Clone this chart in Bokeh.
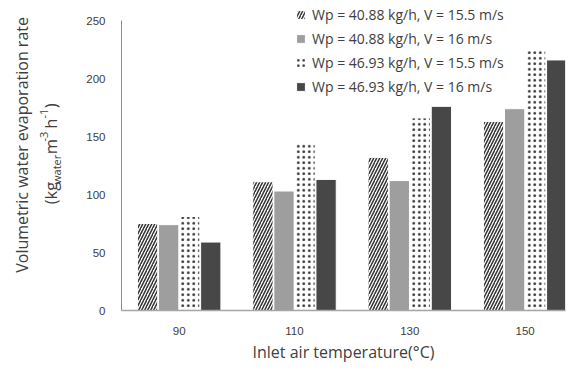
import numpy as np
from bokeh.plotting import figure
from bokeh.layouts import row
from bokeh.models import ColumnDataSource, FixedTicker, Label, Legend, LegendItem
from bokeh.embed import file_html
from bokeh.resources import INLINE

# ---- data ----
temperatures = ["90", "110", "130", "150"]
series_labels = [
    "Wp = 40.88 kg/h, V = 15.5 m/s",
    "Wp = 40.88 kg/h, V = 16 m/s",
    "Wp = 46.93 kg/h, V = 15.5 m/s",
    "Wp = 46.93 kg/h, V = 16 m/s",
]
wp4088_v155 = [75, 111, 132, 163]
wp4088_v16 = [74, 103, 112, 174]
wp4693_v155 = [81, 145, 166, 225]
wp4693_v16 = [59, 113, 176, 216]
y_ticks = [0, 50, 100, 150, 200, 250]

series_values = [wp4088_v155, wp4088_v16, wp4693_v155, wp4693_v16]

# ---- styles ----
styles = [
    dict(fill_color="white", hatch_pattern="right_diagonal_line", hatch_color="#333333",
         hatch_scale=6, hatch_weight=1.5),
    dict(fill_color="#9e9e9e"),
    dict(fill_color="white", hatch_pattern="dot", hatch_color="#333333",
         hatch_scale=5.5, hatch_weight=0.3),
    dict(fill_color="#474747"),
]
offsets = [-0.274, -0.091, 0.091, 0.274]
bar_w = 0.176

H = 365
W1 = 75
tc = "#404040"

# ---- left strip holding the two-line y-axis title ----
left = figure(width=W1, height=H, output_backend="svg", toolbar_location=None,
              x_range=(0, W1), y_range=(0, H), x_axis_location=None, y_axis_location=None,
              min_border=0)
left.outline_line_color = None
left.xgrid.grid_line_color = None
left.ygrid.grid_line_color = None
left.add_layout(Label(x=21, y=H - 170, text="Volumetric water evaporation rate",
                      angle=np.pi / 2, text_align="center", text_baseline="middle",
                      text_font="Open Sans", text_font_size="16px", text_color=tc))
segments = [
    ("(kg", 240, 50, "16.5px"),
    ("water", 216, 56, "11px"),
    ("m", 181, 50, "16.5px"),
    ("-3", 166, 43, "11px"),
    ("h", 151, 50, "16.5px"),
    ("-1", 139, 43, "11px"),
    (")", 127, 50, "16.5px"),
]
for txt, yy, xx, fs in segments:
    left.add_layout(Label(x=xx, y=H - yy, text=txt, angle=np.pi / 2,
                          text_align="left", text_baseline="middle",
                          text_font="Open Sans", text_font_size=fs, text_color=tc))

# ---- main chart ----
p = figure(width=572 - W1, height=H, output_backend="svg", toolbar_location=None,
           x_range=(-0.5, 3.35), y_range=(0, 250 + 20 / 1.16),
           min_border_left=121 - W1, min_border_right=7, min_border_top=0, min_border_bottom=55)
p.outline_line_color = None
p.xgrid.grid_line_color = None
p.ygrid.grid_line_color = None
p.background_fill_color = "white"
p.border_fill_color = "white"

xs = np.arange(len(temperatures))
items = []
for vals, st, off, lab in zip(series_values, styles, offsets, series_labels):
    src = ColumnDataSource(dict(x=xs + off, top=vals))
    r = p.vbar(x="x", top="top", width=bar_w, bottom=0, source=src,
               line_color="white", line_width=1, **st)
    items.append(LegendItem(label=lab, renderers=[r]))

p.xaxis.ticker = FixedTicker(ticks=list(xs))
p.xaxis.major_label_overrides = {int(i): t for i, t in zip(xs, temperatures)}
p.yaxis.ticker = FixedTicker(ticks=y_ticks)
p.yaxis.bounds = (0, 250)
for ax in (p.xaxis[0], p.yaxis[0]):
    ax.major_tick_line_color = None
    ax.minor_tick_line_color = None
    ax.major_tick_out = 0
    ax.major_tick_in = 0
    ax.major_label_text_font = "Liberation Sans"
    ax.major_label_text_font_size = "11.5px"
    ax.major_label_text_color = "#404040"
    ax.major_label_standoff = 16
p.xaxis.axis_line_color = "#a6a6a6"
p.xaxis.axis_line_width = 1.5
p.yaxis.axis_line_color = "#8c8c8c"
p.yaxis.axis_line_width = 1

p.xaxis.axis_label = "Inlet air temperature(°C)"
p.xaxis.axis_label_text_font = "Open Sans"
p.xaxis.axis_label_text_font_size = "16px"
p.xaxis.axis_label_text_font_style = "normal"
p.xaxis.axis_label_text_color = tc
p.xaxis.axis_label_standoff = 3

legend = Legend(items=items, location=(174, 214))
legend.background_fill_alpha = 0
legend.border_line_alpha = 0
legend.label_text_font = "Open Sans"
legend.label_text_font_size = "14px"
legend.label_text_color = tc
legend.glyph_width = 11
legend.glyph_height = 11
legend.label_standoff = 6
legend.spacing = 4
legend.padding = 0
legend.margin = 0
legend.label_height = 20
p.add_layout(legend)

layout = row(left, p, spacing=0)
open("out.html", "w").write(file_html(layout, INLINE))
